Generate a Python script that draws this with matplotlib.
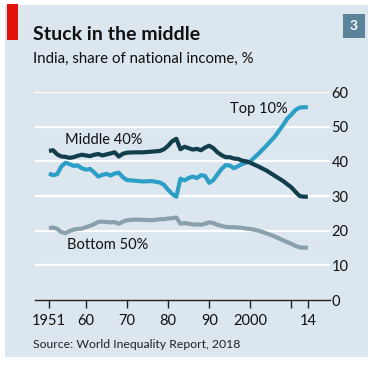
import matplotlib
matplotlib.use("Agg")
import matplotlib.pyplot as plt
from matplotlib.patches import Rectangle

# India, share of national income, %
years = list(range(1951, 1971)) + [1972, 1974, 1976, 1978, 1979, 1980, 1981, 1982] \
    + list(range(1983, 2001)) + [2002, 2004, 2006, 2008, 2009, 2010, 2011, 2012, 2013, 2014]

middle40 = [43.0, 43.2, 42.0, 41.4, 41.3, 41.0, 41.2, 41.6, 41.9, 41.7,
            41.5, 41.9, 42.1, 41.7, 42.0, 42.3, 42.6, 41.4, 42.2, 42.5,
            42.6, 42.6, 42.8, 43.0, 43.5, 44.5, 45.8, 46.5,
            43.5, 44.2, 43.8, 43.4, 43.6, 43.2, 44.0, 44.5, 43.8, 42.6,
            41.8, 41.2, 41.2, 40.8, 40.7, 40.2, 40.0, 39.6,
            38.5, 37.3, 35.8, 34.3, 33.4, 32.5, 31.2, 30.0, 29.8, 29.8]

top10 = [36.5, 36.0, 36.3, 38.5, 39.6, 39.2, 38.7, 38.8, 38.0, 37.6,
         37.8, 36.8, 35.6, 36.1, 36.4, 35.9, 36.5, 36.7, 35.4, 34.6,
         34.4, 34.2, 34.3, 33.9, 33.2, 31.8, 30.6, 29.8,
         35.0, 34.5, 35.2, 35.6, 35.2, 36.0, 35.8, 33.8, 34.6, 36.2,
         37.8, 38.9, 38.8, 38.0, 38.6, 39.2, 39.6, 40.0,
         42.2, 44.6, 47.2, 50.5, 52.3, 53.5, 54.8, 55.5, 55.6, 55.6]

bottom50 = [20.7, 20.9, 20.5, 19.6, 19.3, 19.9, 20.3, 20.5, 20.6, 21.0,
            21.4, 21.9, 22.5, 22.6, 22.5, 22.4, 22.5, 22.0, 22.6, 23.0,
            23.2, 23.1, 23.0, 23.3, 23.3, 23.5, 23.6, 23.8,
            22.0, 22.2, 22.0, 21.8, 21.8, 21.7, 22.0, 22.4, 22.2, 21.7,
            21.4, 21.1, 21.0, 21.0, 20.9, 20.8, 20.6, 20.5,
            20.0, 19.2, 18.3, 17.2, 16.7, 16.2, 15.6, 15.2, 15.1, 15.1]

xticks = [1951, 1960, 1970, 1980, 1990, 2000, 2010, 2014]
xticklabels = ["1951", "60", "70", "80", "90", "2000", "", "14"]
yticks = [0, 10, 20, 30, 40, 50, 60]

bg = "#dce6ee"
plt.rcParams['font.family'] = ['Lato', 'DejaVu Sans']

W, H = 382, 366
fig = plt.figure(figsize=(W / 100, H / 100), dpi=100, facecolor="white")

# panel background and red tag
fig.patches.append(Rectangle((5 / W, 1 - 357 / H), 363 / W, 352 / H,
                             transform=fig.transFigure, facecolor=bg, edgecolor="none", zorder=-2))
fig.patches.append(Rectangle((7 / W, 1 - 40 / H), 11 / W, 36 / H,
                             transform=fig.transFigure, facecolor="#e3120b", edgecolor="none", zorder=-1))
# chart number box
fig.patches.append(Rectangle((343 / W, 1 - 38 / H), 22 / W, 24 / H,
                             transform=fig.transFigure, facecolor="#5b8399", edgecolor="none", zorder=-1))
fig.text(354 / W, 1 - 26 / H, "3", color="white", fontsize=10, fontweight="bold",
         ha="center", va="center")

fig.text(33 / W, 1 - 34 / H, "Stuck in the middle", fontsize=14, fontweight="bold",
         color="#111111", va="center")
fig.text(33 / W, 1 - 59 / H, "India, share of national income, %", fontsize=10.8,
         color="#111111", va="center")
fig.text(33 / W, 1 - 344 / H, "Source: World Inequality Report, 2018", fontsize=8.8,
         color="#222222", va="center")

ax = fig.add_axes([35 / W, (H - 300) / H, 295 / W, 208 / H])
ax.set_zorder(2)
ax.set_facecolor("none")
ax.set_xlim(1947.6, 2019.4)
ax.set_ylim(0, 60)

for v in yticks[1:]:
    ax.axhline(v, color="white", lw=1.6, zorder=1)

ax.plot(years, bottom50, color="#8aa1ad", lw=3, solid_capstyle="butt", zorder=3)
ax.plot(years, top10, color="#2b9fc6", lw=3, solid_capstyle="butt", zorder=3)
ax.plot(years, middle40, color="#123d4c", lw=3, solid_capstyle="butt", zorder=4)

ax.text(1954.9, 46.1, "Middle 40%", fontsize=10.5, color="#111111", va="center", ha="left")
ax.text(2009.2, 55.0, "Top 10%", fontsize=10.5, color="#111111", va="center", ha="right")
ax.text(1955.4, 15.9, "Bottom 50%", fontsize=10.5, color="#111111", va="center", ha="left")

for s in ["top", "right", "left"]:
    ax.spines[s].set_visible(False)
ax.spines["bottom"].set_color("#222222")
ax.spines["bottom"].set_linewidth(1)

ax.set_xticks(xticks)
ax.set_xticklabels(xticklabels)
ax.tick_params(axis="x", direction="out", length=6, width=1, color="#222222",
               labelsize=10.5, pad=4, labelcolor="#111111")
ax.yaxis.tick_right()
ax.set_yticks(yticks)
ax.tick_params(axis="y", length=0, labelsize=10.5, pad=1, labelcolor="#111111")

fig.savefig("out.png", dpi=100, facecolor="white")
